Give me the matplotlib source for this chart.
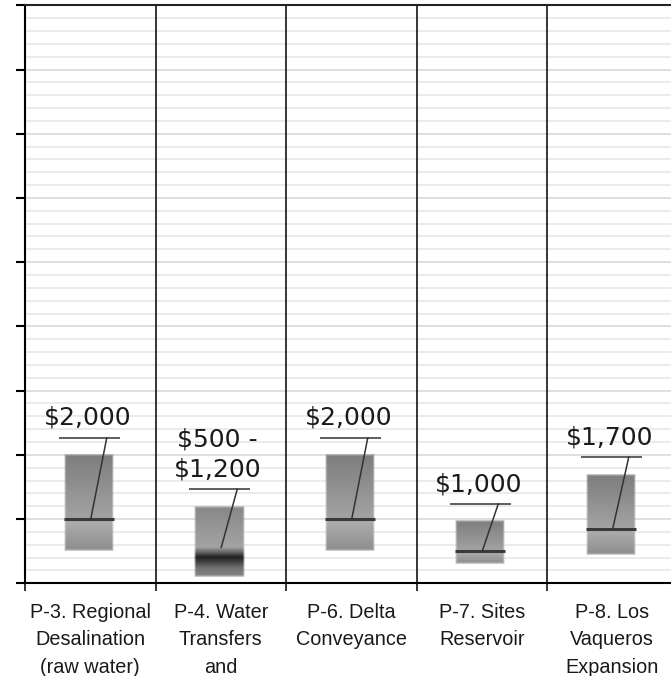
import numpy as np
import matplotlib
matplotlib.use("Agg")
import matplotlib.pyplot as plt

# ---------------- data ----------------
categories = [
    "P-3. Regional\nDesalination\n(raw water)",
    "P-4. Water\nTransfers\nand",
    "P-6. Delta\nConveyance",
    "P-7. Sites\nReservoir",
    "P-8. Los\nVaqueros\nExpansion",
]
low_values = [500, 100, 500, 300, 440]
median_values = [1000, 560, 1000, 500, 850]
high_values = [2000, 1200, 2000, 970, 1700]
cost_labels = ["$2,000", "$500 -\n$1,200", "$2,000", "$1,000", "$1,700"]

y_max = 9000
y_major = 1000
y_minor = 200

# ---------------- style ----------------
# gradient stops (fraction within segment, gray level)
std_lower = [(0.0, 0.55), (1.0, 0.69)]
std_upper = [(0.0, 0.64), (1.0, 0.49)]
p4_lower = [(0.0, 0.53), (0.3, 0.45), (0.67, 0.12), (0.85, 0.42), (1.0, 0.62)]
p4_upper = [(0.0, 0.64), (1.0, 0.53)]
box_styles = [
    dict(lower=std_lower, upper=std_upper, median_line=True),
    dict(lower=p4_lower, upper=p4_upper, median_line=False),
    dict(lower=std_lower, upper=std_upper, median_line=True),
    dict(lower=std_lower, upper=std_upper, median_line=True),
    dict(lower=std_lower, upper=std_upper, median_line=True),
]

W, H = 671, 676
fig = plt.figure(figsize=(W / 100, H / 100), dpi=100)
ax_left, ax_right, ax_top, ax_bottom = 25.0, 677.5, 5.3, 583.3
ax = fig.add_axes([ax_left / W, (H - ax_bottom) / H,
                   (ax_right - ax_left) / W, (ax_bottom - ax_top) / H])

n = len(categories)
centers = np.arange(n) + 0.5
boundaries = np.arange(n + 1)
ax.set_xlim(0, n)
ax.set_ylim(0, y_max)

# grid
ax.set_yticks(np.arange(0, y_max + 1, y_major))
ax.set_yticks(np.arange(0, y_max + 1, y_minor), minor=True)
ax.yaxis.grid(True, which="minor", color="#e6e6e6", lw=1.1, zorder=0)
ax.yaxis.grid(True, which="major", color="#d4d4d4", lw=1.1, zorder=0)
ax.set_axisbelow(True)
ax.set_yticklabels([])
ax.tick_params(axis="y", which="major", length=6.5, width=1.5, color="black",
               direction="out")
ax.tick_params(axis="y", which="minor", length=0)

ax.set_xticks(centers)
ax.set_xticklabels(categories, fontsize=14.3, family=["Liberation Sans", "DejaVu Sans"],
                   color="#1a1a1a", linespacing=1.56)
ax.set_xticks(boundaries, minor=True)
ax.tick_params(axis="x", which="major", length=0, pad=14.0)
ax.tick_params(axis="x", which="minor", length=5.5, width=1.1, color="black",
               direction="out")

for side in ["left", "bottom", "top"]:
    ax.spines[side].set_color("black")
    ax.spines[side].set_linewidth(1.5)
ax.spines["top"].set_color("#222222")
ax.spines["right"].set_visible(False)

ax.vlines(boundaries[1:-1], 0, y_max, color="black", lw=1.1, zorder=1)

# pixel scale
fig.canvas.draw()
bb = ax.get_window_extent()
px_y = bb.height / y_max
px_x = bb.width / n

box_half = 25.0 / px_x
shift = -1.5 / px_x


def gray_profile(vals, lo, hi, stops):
    fr = (vals - lo) / (hi - lo)
    xs = [s[0] for s in stops]
    gs = [s[1] for s in stops]
    return np.interp(fr, xs, gs)


for i in range(n):
    c = centers[i] + shift
    lo, med, hi = low_values[i], median_values[i], high_values[i]
    st = box_styles[i]
    yy = np.linspace(lo, hi, 400)
    g = np.where(yy < med,
                 gray_profile(yy, lo, med, st["lower"]),
                 gray_profile(yy, med, hi, st["upper"]))
    ncol = 60
    img = np.zeros((len(yy), ncol, 4))
    img[..., 0] = g[:, None]
    img[..., 1] = g[:, None]
    img[..., 2] = g[:, None]
    xa = np.linspace(0, 1, ncol)
    edge_a = np.clip(np.minimum(xa, 1 - xa) / 0.035, 0, 1) * 0.85 + 0.15
    ya = np.linspace(0, 1, len(yy))
    fade_px = 2.0 / ((hi - lo) * px_y)
    edge_y = np.clip(np.minimum(ya, 1 - ya) / fade_px, 0, 1) * 0.7 + 0.3
    img[..., 3] = np.minimum(edge_a[None, :], edge_y[:, None])
    ax.imshow(img, origin="lower", extent=(c - box_half, c + box_half, lo, hi),
              aspect="auto", interpolation="bilinear", zorder=3)
    if st["median_line"]:
        ax.hlines(med, c - box_half, c + box_half, color="#3a3a3a", lw=2.2, zorder=4)

    # callout
    uy = hi + 17.0 / px_y
    ax.plot([c - 30.0 / px_x, c + 31.0 / px_x], [uy, uy], color="#333333",
            lw=1.1, zorder=5, solid_capstyle="butt")
    ax.plot([c + 18.0 / px_x, c + 2.0 / px_x], [uy, med], color="#333333",
            lw=1.1, zorder=5)
    ax.text(c - 1.5 / px_x, hi + 30.0 / px_y, cost_labels[i], ha="center",
            va="baseline", fontsize=18, family=["DejaVu Sans"], color="#1a1a1a",
            parse_math=False, linespacing=1.3, zorder=6)

ax.set_xlim(0, n)
ax.set_ylim(0, y_max)

fig.savefig("out.png", dpi=100)
